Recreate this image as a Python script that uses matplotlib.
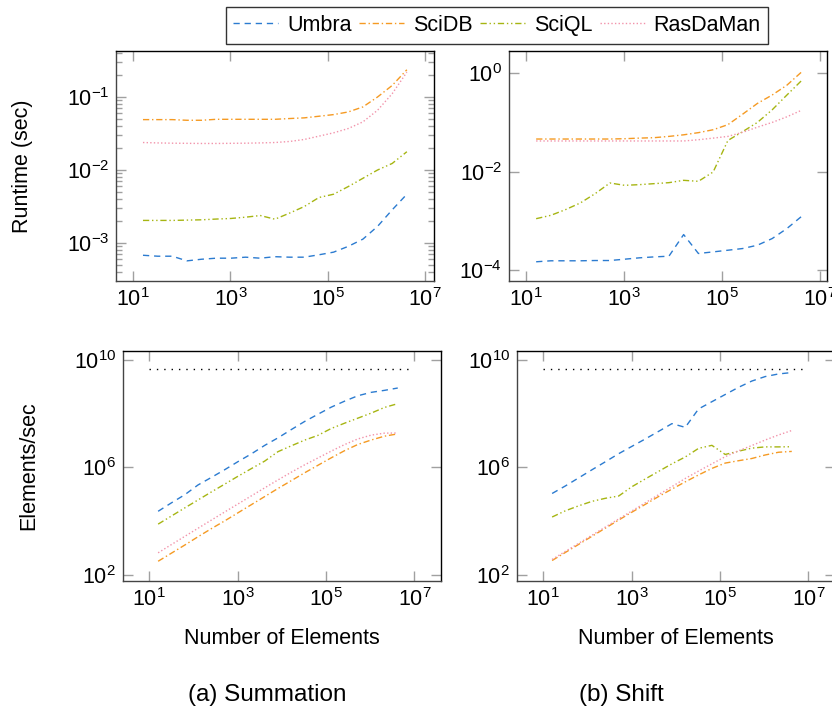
import matplotlib
matplotlib.use("Agg")
import matplotlib.pyplot as plt
from matplotlib.ticker import FixedLocator, NullLocator, LogLocator

# number of elements (powers of two, 2^4 .. 2^22)
n_elems = [16, 32, 64, 128, 256, 512, 1024, 2048, 4096, 8192, 16384, 32768,
           65536, 131072, 262144, 524288, 1048576, 2097152, 4194304]

# runtime in seconds, (a) Summation
umbra_sum = [6.8e-4, 6.6e-4, 6.6e-4, 5.7e-4, 6.0e-4, 6.2e-4, 6.2e-4, 6.4e-4, 6.2e-4, 6.5e-4,
             6.4e-4, 6.4e-4, 6.9e-4, 7.5e-4, 9.0e-4, 1.13e-3, 1.69e-3, 2.85e-3, 4.66e-3]
scidb_sum = [0.049, 0.049, 0.049, 0.048, 0.048, 0.0495, 0.0495, 0.0495, 0.0495, 0.0495,
             0.0507, 0.0518, 0.0545, 0.0574, 0.0624, 0.0731, 0.100, 0.144, 0.236]
sciql_sum = [2.04e-3, 2.04e-3, 2.04e-3, 2.06e-3, 2.08e-3, 2.13e-3, 2.17e-3, 2.26e-3, 2.38e-3, 2.12e-3,
             2.57e-3, 3.16e-3, 4.2e-3, 4.66e-3, 5.93e-3, 7.7e-3, 0.010, 0.0123, 0.0178]
ras_sum = [0.0238, 0.0235, 0.0233, 0.0232, 0.0231, 0.0231, 0.0232, 0.0233, 0.0235, 0.0238,
           0.0246, 0.0262, 0.0291, 0.0323, 0.037, 0.0456, 0.0658, 0.111, 0.219]

# runtime in seconds, (b) Shift
umbra_shift = [1.48e-4, 1.55e-4, 1.55e-4, 1.55e-4, 1.57e-4, 1.57e-4, 1.67e-4, 1.78e-4, 1.86e-4, 1.92e-4,
               5.28e-4, 2.18e-4, 2.35e-4, 2.54e-4, 2.75e-4, 3.21e-4, 4.38e-4, 7.0e-4, 1.24e-3]
scidb_shift = [0.046, 0.046, 0.046, 0.046, 0.046, 0.046, 0.0467, 0.048, 0.049, 0.052,
               0.056, 0.062, 0.071, 0.09, 0.147, 0.243, 0.36, 0.57, 1.06]
sciql_shift = [1.11e-3, 1.30e-3, 1.70e-3, 2.32e-3, 3.58e-3, 5.89e-3, 5.28e-3, 5.45e-3, 5.71e-3, 5.98e-3,
               6.67e-3, 6.37e-3, 9.85e-3, 0.043, 0.065, 0.10, 0.18, 0.36, 0.71]
ras_shift = [0.042, 0.042, 0.042, 0.042, 0.042, 0.042, 0.042, 0.042, 0.042, 0.042,
             0.042, 0.0445, 0.048, 0.052, 0.063, 0.08, 0.10, 0.13, 0.177]

peak_x = [10, 1e7]
peak_rate = [4.5e9, 4.5e9]

systems = ['Umbra', 'SciDB', 'SciQL', 'RasDaMan']
colors = ['#2b7bd0', '#f59a23', '#a6b512', '#f293aa']
dashes = [(4.5, 3.5), (4.5, 2, 1, 2), (4.5, 2, 1, 2, 1, 2), (1, 1.6)]

runtimes = {
    'sum': [umbra_sum, scidb_sum, sciql_sum, ras_sum],
    'shift': [umbra_shift, scidb_shift, sciql_shift, ras_shift],
}

plt.rcParams['font.family'] = ['Liberation Sans', 'DejaVu Sans']
plt.rcParams['font.size'] = 15.5

fig = plt.figure(figsize=(8.32, 7.08), dpi=100)
W, H = 832, 708


def add_axes(left, top, right, bottom):
    return fig.add_axes([left / W, 1 - bottom / H, (right - left) / W, (bottom - top) / H])


ax_rs = add_axes(116, 51, 434, 281)
ax_rh = add_axes(509, 51, 827, 281)
ax_ts = add_axes(123, 351, 441, 581)
ax_th = add_axes(517, 351, 835, 581)

for ax, key in [(ax_rs, 'sum'), (ax_rh, 'shift')]:
    for name, col, d, rt in zip(systems, colors, dashes, runtimes[key]):
        ax.plot(n_elems, rt, color=col, lw=1.0, dashes=d, label=name)

for ax, key in [(ax_ts, 'sum'), (ax_th, 'shift')]:
    ax.plot(peak_x, peak_rate, color='black', lw=1.0, dashes=(1, 4.3))
    for col, d, rt in zip(colors, dashes, runtimes[key]):
        rate = [n / t for n, t in zip(n_elems, rt)]
        ax.plot(n_elems, rate, color=col, lw=1.0, dashes=d)

for ax in [ax_rs, ax_rh, ax_ts, ax_th]:
    ax.set_xscale('log')
    ax.set_yscale('log')
    ax.xaxis.set_major_locator(FixedLocator([1e1, 1e3, 1e5, 1e7]))
    ax.xaxis.set_minor_locator(NullLocator())
    ax.tick_params(which='both', direction='in', top=True, right=True,
                   color='#a0a0a0', width=1.0, labelsize=15.5)
    ax.tick_params(which='major', length=7)
    ax.tick_params(which='minor', length=4.5)
    ax.tick_params(axis='x', pad=5)
    ax.tick_params(axis='y', pad=5)
    for s in ax.spines.values():
        s.set_linewidth(1.0)
    ax.spines['left'].set_color('#444444')
    ax.spines['bottom'].set_color('#444444')

ax_rs.set_xlim(10 ** 0.65, 10 ** 7.18)
ax_rh.set_xlim(10 ** 0.65, 10 ** 7.14)
ax_ts.set_xlim(10 ** 0.41, 10 ** 7.6)
ax_th.set_xlim(10 ** 0.41, 10 ** 7.6)

ax_rs.set_ylim(10 ** -3.52, 10 ** -0.37)
ax_rs.yaxis.set_major_locator(FixedLocator([1e-3, 1e-2, 1e-1]))
ax_rs.yaxis.set_minor_locator(LogLocator(base=10, subs=range(2, 10)))

ax_rh.set_ylim(10 ** -4.22, 10 ** 0.45)
ax_rh.yaxis.set_major_locator(FixedLocator([1e-4, 1e-2, 1e0]))
ax_rh.yaxis.set_minor_locator(NullLocator())

for ax in [ax_ts, ax_th]:
    ax.set_ylim(10 ** 1.78, 10 ** 10.33)
    ax.yaxis.set_major_locator(FixedLocator([1e2, 1e6, 1e10]))
    ax.yaxis.set_minor_locator(NullLocator())
    ax.set_xlabel('Number of Elements', fontsize=15.5)
    ax.xaxis.set_label_coords(0.5, -0.205)

ax_rs.set_ylabel('Runtime (sec)', fontsize=15.5)
ax_rs.yaxis.set_label_coords(-0.262, 0.5)
ax_ts.set_ylabel('Elements/sec', fontsize=15.5)
ax_ts.yaxis.set_label_coords(-0.262, 0.5)

handles, labels = ax_rs.get_legend_handles_labels()
leg = fig.legend(handles, labels, loc='center', bbox_to_anchor=(497 / W, 1 - 25.5 / H),
                 ncol=4, fontsize=15.5, frameon=True, fancybox=False, edgecolor='black',
                 handlelength=2.1, handletextpad=0.4, columnspacing=0.35, borderpad=0.35)
leg.get_frame().set_linewidth(1.0)

fig.text(267 / W, 1 - 695 / H, '(a) Summation', ha='center', va='center', fontsize=17.5)
fig.text(621 / W, 1 - 695 / H, '(b) Shift', ha='center', va='center', fontsize=17.5)

fig.savefig('out.png', dpi=100)
